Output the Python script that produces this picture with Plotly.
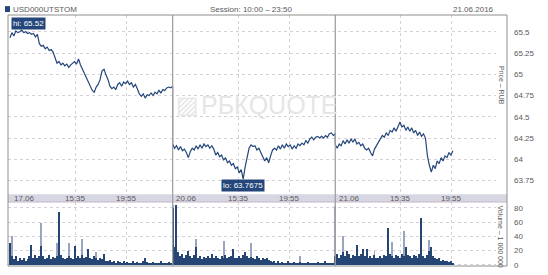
import plotly.graph_objects as go

# ---------------- data ----------------
symbol = "USD000UTSTOM"
session = "Session: 10:00 – 23:50"
chart_date = "21.06.2016"
days = ["17.06", "20.06", "21.06"]
session_start = "10:00"
session_minutes = 830          # 10:00 .. 23:50
step_min = 10                  # sampling step of the series
grid_times = ["15:35", "19:55"]

price_day1 = [65.43, 65.49, 65.45, 65.51, 65.49, 65.50, 65.52, 65.49, 65.50, 65.48,
              65.49, 65.47, 65.48, 65.44, 65.47, 65.36, 65.33, 65.34, 65.30, 65.32,
              65.28, 65.29, 65.26, 65.20, 65.13, 65.15, 65.11, 65.13, 65.10, 65.12,
              65.08, 65.11, 65.13, 65.15, 65.12, 65.18, 65.11, 65.06, 65.00, 64.94,
              64.90, 64.85, 64.81, 64.79, 64.85, 64.88, 64.94, 65.04, 65.06, 64.99,
              64.94, 64.86, 64.83, 64.85, 64.82, 64.88, 64.90, 64.86, 64.91, 64.89,
              64.92, 64.88, 64.90, 64.85, 64.88, 64.83, 64.77, 64.74, 64.77, 64.72,
              64.76, 64.75, 64.78, 64.75, 64.79, 64.77, 64.81, 64.78, 64.82, 64.81,
              64.84, 64.85, 64.84, 64.86]
price_day2 = [64.18, 64.13, 64.16, 64.11, 64.15, 64.10, 64.12, 64.08, 64.02, 64.09,
              64.13, 64.11, 64.16, 64.12, 64.17, 64.13, 64.18, 64.15, 64.17, 64.13,
              64.16, 64.12, 64.05, 64.08, 64.03, 64.05, 63.99, 64.02, 63.96, 63.98,
              63.93, 63.95, 63.89, 63.91, 63.84, 63.88, 63.7675, 63.91, 64.04, 64.13,
              64.17, 64.15, 64.16, 64.11, 64.13, 64.08, 64.04, 63.98, 64.02, 63.96,
              64.04, 64.11, 64.13, 64.11, 64.16, 64.12, 64.17, 64.13, 64.18, 64.15,
              64.17, 64.12, 64.16, 64.13, 64.18, 64.16, 64.19, 64.17, 64.22, 64.19,
              64.24, 64.26, 64.23, 64.26, 64.27, 64.25, 64.27, 64.25, 64.28, 64.26,
              64.30, 64.31, 64.28, 64.30]
price_day3 = [64.17, 64.13, 64.18, 64.16, 64.22, 64.18, 64.23, 64.19, 64.24, 64.20,
              64.24, 64.18, 64.20, 64.16, 64.18, 64.13, 64.11, 64.13, 64.08, 64.04,
              64.12, 64.16, 64.19, 64.24, 64.28, 64.26, 64.31, 64.28, 64.34, 64.32,
              64.37, 64.33, 64.39, 64.44, 64.38, 64.40, 64.34, 64.38, 64.33, 64.37,
              64.31, 64.34, 64.28, 64.32, 64.27, 64.30, 64.25, 64.04, 63.93, 63.85,
              63.93, 63.89, 63.98, 63.95, 64.02, 63.98, 64.04, 64.02, 64.08, 64.05,
              64.10]

vol_day1 = [30, 12, 8, 12, 6, 9, 7, 10, 6, 8,
            12, 28, 10, 14, 9, 12, 26, 12, 8, 10,
            14, 8, 11, 9, 12, 74, 14, 10, 8, 9,
            12, 10, 8, 26, 9, 12, 10, 14, 9, 11,
            22, 10, 8, 12, 9, 7, 10, 8, 15, 6,
            5, 7, 4, 6, 3, 5, 4, 3, 5, 2,
            4, 3, 2, 5, 3, 4, 2, 3, 6, 10,
            4, 3, 2, 4, 3, 2, 3, 5, 2, 3,
            2, 4, 3, 5]
vol_day2 = [80, 25, 84, 18, 12, 15, 10, 14, 20, 12,
            9, 14, 25, 10, 12, 8, 11, 9, 13, 10,
            15, 9, 12, 10, 8, 12, 10, 14, 9, 11,
            12, 22, 10, 9, 12, 10, 14, 18, 12, 9,
            11, 10, 8, 12, 9, 7, 10, 8, 9, 7,
            5, 4, 6, 3, 5, 3, 4, 2, 3, 5,
            2, 3, 4, 2, 3, 4, 2, 3, 2, 4,
            3, 2, 3, 2, 4, 2, 3, 2, 5, 2,
            3, 2, 3, 2]
vol_day3 = [12, 15, 10, 14, 18, 12, 20, 15, 10, 14,
            12, 28, 12, 15, 22, 12, 22, 10, 12, 9,
            14, 10, 10, 12, 9, 14, 12, 51, 15, 12,
            10, 14, 12, 10, 15, 12, 25, 14, 12, 10,
            14, 12, 10, 15, 66, 12, 10, 14, 20, 25,
            12, 10, 8, 9, 6, 7, 5, 6, 4, 5,
            3]

# lighter (trade-count style) spikes: day index, time, value
spike_day = [0, 0, 0, 0, 0, 0, 1, 1, 1, 1, 1, 2, 2, 2, 2, 2, 2]
spike_time = ["10:10", "12:40", "14:00", "15:00", "16:10", "17:20",
              "10:00", "12:00", "14:20", "16:40", "20:50",
              "10:00", "10:40", "13:20", "14:50", "15:50", "18:00"]
spike_val = [41, 59, 30, 30, 36, 18,
             84, 36, 33, 30, 12,
             83, 41, 20, 32, 48, 35]

price_ticks = [63.75, 64, 64.25, 64.5, 64.75, 65, 65.25, 65.5]
vol_ticks = [0, 20, 40, 60, 80]

# ---------------- helpers ----------------
def mins(hhmm):
    h, m = hhmm.split(":")
    sh, sm = session_start.split(":")
    return (int(h) * 60 + int(m)) - (int(sh) * 60 + int(sm))

def t_of(day, hhmm):
    return day * session_minutes + mins(hhmm)

def series_x(day, n):
    return [day * session_minutes + step_min * i for i in range(n)]

price_days = [price_day1, price_day2, price_day3]
vol_days = [vol_day1, vol_day2, vol_day3]
px, py, vx, vy = [], [], [], []
for d in range(3):
    px += series_x(d, len(price_days[d])); py += price_days[d]
    vx += series_x(d, len(vol_days[d])); vy += vol_days[d]
sx = [t_of(d, t) for d, t in zip(spike_day, spike_time)]

NAVY = "#24467a"
GRID = "#d6d0da"
FRAME = "#8e8e8e"
TXT = "#5a5a5a"
FONT = "Liberation Sans, Arial, sans-serif"

XR = [-10, 3 * session_minutes - 10]
grid_x = [t_of(d, g) for d in range(3) for g in grid_times]

# pixel -> paper helpers (layout geometry only)
W, H = 548, 275
ML, MR, MT, MB = 8, 52, 15, 5
PW, PH = W - ML - MR, H - MT - MB
def pxx(p): return (p - ML) / PW
def pyy(p): return (H - MB - p) / PH

fig = go.Figure()
fig.add_trace(go.Bar(x=sx, y=spike_val, marker_color="#9aa6bd", marker_line_width=0,
                     width=5, xaxis="x2", yaxis="y2", showlegend=False))
fig.add_trace(go.Bar(x=vx, y=vy, marker_color="#254675", marker_line_width=0,
                     width=step_min * 0.6, xaxis="x2", yaxis="y2", showlegend=False))
fig.add_trace(go.Scatter(x=px, y=py, mode="lines", line=dict(color=NAVY, width=1.2),
                         xaxis="x", yaxis="y", showlegend=False))

axis_common = dict(showline=False, zeroline=False, ticks="")
fig.update_layout(
    width=W, height=H, margin=dict(l=ML, r=MR, t=MT, b=MB),
    paper_bgcolor="white", plot_bgcolor="white",
    font=dict(family=FONT, size=8, color=TXT),
    barmode="overlay", bargap=0,
    xaxis=dict(range=XR, domain=[0, 1], tickvals=grid_x, showticklabels=False,
               showgrid=True, gridcolor=GRID, griddash="dot", gridwidth=1,
               anchor="y", **axis_common),
    xaxis2=dict(range=XR, domain=[0, 1], tickvals=grid_x, showticklabels=False,
                showgrid=True, gridcolor=GRID, griddash="dot", gridwidth=1,
                anchor="y2", matches="x", **axis_common),
    yaxis=dict(range=[63.602, 65.697], domain=[pyy(196), 1], side="right",
               tickvals=price_ticks, ticktext=[f"{v:g}" for v in price_ticks],
               showgrid=True, gridcolor=GRID, griddash="dot", gridwidth=1,
               ticklabelstandoff=17, tickfont=dict(size=8, color=TXT), **axis_common),
    yaxis2=dict(range=[-1.5, 88], domain=[0, pyy(205)], side="right",
                tickvals=vol_ticks, showgrid=True, gridcolor=GRID, griddash="dot",
                gridwidth=1, ticklabelstandoff=17, tickfont=dict(size=8, color=TXT),
                **axis_common),
)

shapes = []
# axis band between panels
shapes.append(dict(type="rect", xref="paper", yref="paper", x0=0, x1=pxx(507),
                   y0=pyy(205), y1=pyy(197), fillcolor="#d7d7e3", line_width=0, layer="below"))
shapes.append(dict(type="line", xref="paper", yref="paper", x0=0, x1=pxx(507),
                   y0=pyy(205), y1=pyy(205), line=dict(color="#c9b6c9", width=1)))
# day separators
for d in range(1, 3):
    shapes.append(dict(type="line", xref="x", yref="paper", x0=d * session_minutes,
                       x1=d * session_minutes, y0=0, y1=pyy(15),
                       line=dict(color="#a0a0a0", width=1.3)))
# frame
shapes.append(dict(type="rect", xref="paper", yref="paper", x0=0, x1=pxx(507),
                   y0=0, y1=1, line=dict(color=FRAME, width=1), fillcolor="rgba(0,0,0,0)"))
# symbol square
shapes.append(dict(type="rect", xref="paper", yref="paper", x0=pxx(5), x1=pxx(10),
                   y0=pyy(12), y1=pyy(6), fillcolor=NAVY, line_width=0))
fig.update_layout(shapes=shapes)

ann = []
ann.append(dict(text=symbol, xref="paper", yref="paper", x=pxx(11), y=pyy(9),
                xanchor="left", yanchor="middle", showarrow=False, font=dict(size=8, color=TXT)))
ann.append(dict(text=session, xref="paper", yref="paper", x=pxx(251), y=pyy(9),
                xanchor="center", yanchor="middle", showarrow=False, font=dict(size=8, color=TXT)))
ann.append(dict(text=chart_date, xref="paper", yref="paper", x=pxx(496), y=pyy(9),
                xanchor="right", yanchor="middle", showarrow=False, font=dict(size=8, color=TXT)))
# band labels
for d in range(3):
    ann.append(dict(text=days[d], xref="x", yref="paper", x=d * session_minutes + 8,
                    y=pyy(201), xanchor="left", yanchor="middle", showarrow=False,
                    font=dict(size=8, color=TXT)))
    for g in grid_times:
        ann.append(dict(text=g, xref="x", yref="paper", x=t_of(d, g), y=pyy(201),
                        xanchor="center", yanchor="middle", showarrow=False,
                        font=dict(size=8, color=TXT)))
# axis titles
ann.append(dict(text="Price – RUB", xref="paper", yref="paper", x=pxx(501), y=pyy(86),
                xanchor="center", yanchor="middle",
                textangle=90, showarrow=False, font=dict(size=7, color=TXT)))
ann.append(dict(text="Volume – 1 000 000", xref="paper", yref="paper", x=pxx(501),
                y=pyy(240), xanchor="center", yanchor="middle",
                textangle=90, showarrow=False, font=dict(size=7, color=TXT)))
# watermark
ann.append(dict(text="РБКQUOTE", xref="paper", yref="paper", x=pxx(199), y=pyy(106),
                xanchor="left", yanchor="middle", showarrow=False,
                font=dict(size=25, color="#e6e6e6", family="Liberation Sans")))
ann.append(dict(text="▨", xref="paper", yref="paper", x=pxx(187), y=pyy(106),
                xanchor="center", yanchor="middle", showarrow=False,
                font=dict(size=24, color="#e6e6e6", family="DejaVu Sans")))
# hi / lo labels
hi = max(py); lo = min(py)
hi_x = px[py.index(hi)]; lo_x = px[py.index(lo)]
ann.append(dict(text=f"hi: {hi:g}", xref="x", yref="y", x=px[0] + 5, y=hi, yshift=7,
                xanchor="left", yanchor="middle", showarrow=False, bgcolor=NAVY,
                borderpad=1, font=dict(size=8, color="white")))
ann.append(dict(text=f"lo: {lo:g}", xref="x", yref="y", x=lo_x, y=lo, yshift=-6,
                xanchor="center", yanchor="middle", showarrow=False, bgcolor=NAVY,
                borderpad=1, font=dict(size=8, color="white")))
fig.update_layout(annotations=ann)

fig.write_html("out.html")
